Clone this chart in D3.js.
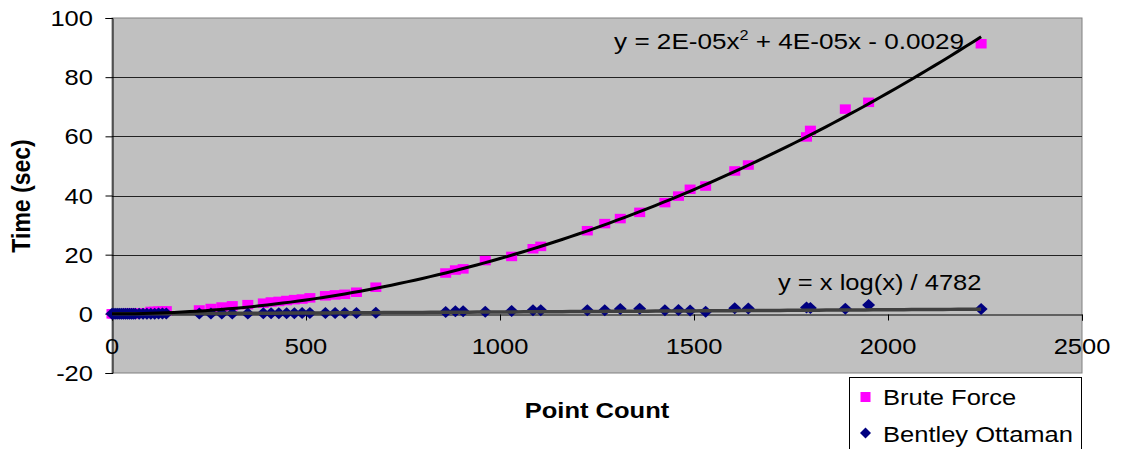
<!DOCTYPE html>
<html><head><meta charset="utf-8">
<script src="https://cdn.jsdelivr.net/npm/d3@7"></script>
<style>body{margin:0;background:#fff} text{font-family:Arial,"Liberation Sans",sans-serif;fill:#000}</style>
</head><body><svg id="c" width="1121" height="449"></svg>
<script>
const pointCount = [0,5,10,15,20,25,30,35,40,45,50,55,60,70,80,90,100,110,120,130,140,
  225,255,283,310,350,390,410,430,450,470,490,510,550,575,600,630,680,
  860,885,905,962,1030,1085,1105,1225,1270,1310,1360,1425,1460,1490,1530,1605,1640,1790,1800,1890,1950,2240];
const bruteForce = [0,0,0,0,0,0,0,0,0.1,0.1,0.1,0.1,0.1,0.2,0.2,0.3,0.8,0.8,0.9,0.9,1.0,
  1.3,1.8,2.3,2.7,3.1,3.6,4.0,4.2,4.5,4.8,5.0,5.4,6.1,6.4,6.6,7.3,9.0,
  13.8,14.8,15.2,18.0,19.4,22.0,22.8,28.1,30.5,32.2,34.3,37.6,39.8,42.1,43.2,48.3,50.3,59.8,62.0,69.2,71.5,91.3];
const bentley = [0,0,0,0,0,0,0,0,0,0,0,0,0,0,0,0,0,0,0.1,0.1,0.1,
  0.1,0.1,0.1,0.1,0.1,0.2,0.2,0.2,0.2,0.2,0.3,0.3,0.3,0.3,0.3,0.3,0.4,
  0.6,0.9,0.9,0.7,1.0,1.2,1.2,1.2,1.2,1.6,1.7,1.2,1.3,1.1,0.7,1.9,1.8,2.1,2.0,1.7,3.0,1.6];
const xTicks = [0,500,1000,1500,2000,2500];
const yTicks = [-20,0,20,40,60,80,100];
const gridValues = [20,40,60,80];
const seriesNames = ["Brute Force","Bentley Ottaman"];
const quadCoef = [1.865e-5, 4e-5, -0.0029];  // fitted trendline
const bentleyDivisor = 4782;

const svg = d3.select("#c");
const L=112, R=1082, T=18, B=373;
const x = d3.scaleLinear().domain([0,2500]).range([L,R]);
const y = d3.scaleLinear().domain([-20,100]).range([B,T]);
const SX = 1.16;

function label(g, px, py, str, anchor, size, weight, rot){
  const t = g.append("text")
    .attr("transform", `translate(${px},${py}) scale(${SX},1)` + (rot?` rotate(${rot})`:""))
    .attr("text-anchor", anchor||"start")
    .style("font-size", (size||22)+"px")
    .style("font-weight", weight||"normal");
  if (str!==null) t.text(str);
  return t;
}

// plot area
svg.append("rect").attr("x",L).attr("y",T).attr("width",R-L).attr("height",B-T)
  .attr("fill","#c0c0c0").attr("stroke","#808080").attr("stroke-width",1);

// gridlines
svg.append("g").selectAll("line").data(gridValues).join("line")
  .attr("x1",L).attr("x2",R).attr("y1",d=>Math.round(y(d))+0.5).attr("y2",d=>Math.round(y(d))+0.5)
  .attr("stroke","#222").attr("stroke-width",1);

// x axis at zero
const xAxis = d3.axisBottom(x).tickValues(xTicks).tickSize(6).tickFormat("");
const gx = svg.append("g").attr("transform",`translate(0,${Math.round(y(0))+0.5})`).call(xAxis);
gx.select(".domain").attr("stroke","#000");
gx.selectAll(".tick line").attr("stroke","#000");
const gxl = svg.append("g");
xTicks.forEach(v=>label(gxl, x(v), 354, String(v), "middle"));

// y axis
const yAxis = d3.axisLeft(y).tickValues(yTicks).tickSize(7).tickFormat("");
const gy = svg.append("g").attr("transform",`translate(${L+0.5},0)`).call(yAxis);
gy.select(".domain").attr("stroke","#000");
gy.selectAll(".tick line").attr("stroke","#000");
const gyl = svg.append("g");
yTicks.forEach(v=>label(gyl, 93, y(v)+8, String(v), "end"));

// brute force squares
svg.append("g").selectAll("rect").data(pointCount.map((p,i)=>[p,bruteForce[i]])).join("rect")
  .attr("x",d=>x(d[0])-5.5).attr("y",d=>y(d[1])-4.75).attr("width",11).attr("height",9.5)
  .attr("fill","#ff00ff");

// bentley diamonds
const diamond = "M0,-6L6.5,0L0,6L-6.5,0Z";
svg.append("g").selectAll("path").data(pointCount.map((p,i)=>[p,bentley[i]])).join("path")
  .attr("d",diamond).attr("transform",d=>`translate(${x(d[0])},${y(d[1])})`)
  .attr("fill","#000080");

// trendlines
const xmax = d3.max(pointCount);
const quad = d3.range(0, xmax+1, 20).concat([xmax]).map(v=>[v, quadCoef[0]*v*v+quadCoef[1]*v+quadCoef[2]]);
const lg = d3.range(1, xmax+1, 20).concat([xmax]).map(v=>[v, v*Math.log10(v)/bentleyDivisor]);
const line = d3.line().x(d=>x(d[0])).y(d=>y(d[1]));
svg.append("path").datum(lg).attr("d",line).attr("fill","none").attr("stroke","#404040").attr("stroke-width",3.5);
svg.append("path").datum(quad).attr("d",line).attr("fill","none").attr("stroke","#000").attr("stroke-width",3);

// equations
const eq = label(svg, 964, 49, null, "end", 22.5);
eq.append("tspan").text("y = 2E-05x");
eq.append("tspan").text("2").style("font-size","14px").attr("dy",-9);
eq.append("tspan").text(" + 4E-05x - 0.0029").attr("dy",9);
label(svg, 778, 290, "y = x log(x) / 4782", "start", 22);

// axis titles
label(svg, 30, 196, "Time (sec)", "middle", 23, "bold", -90);
label(svg, 597, 418, "Point Count", "middle", 22, "bold");

// legend
svg.append("rect").attr("x",849.5).attr("y",377.5).attr("width",232).attr("height",90)
  .attr("fill","#fff").attr("stroke","#000").attr("stroke-width",1);
svg.append("rect").attr("x",860.5).attr("y",392).attr("width",10).attr("height",10).attr("fill","#ff00ff");
svg.append("path").attr("d","M0,-5.5L5.5,0L0,5.5L-5.5,0Z").attr("transform","translate(865.5,433)").attr("fill","#000080");
label(svg, 883, 405, seriesNames[0], "start", 22);
label(svg, 883, 442, seriesNames[1], "start", 22);
</script></body></html>
